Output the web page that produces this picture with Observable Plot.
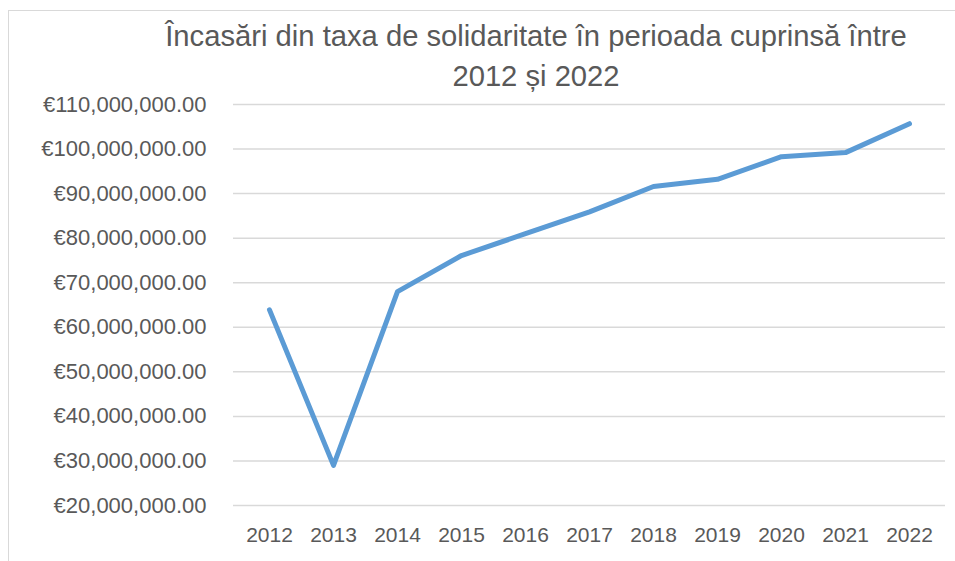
<!DOCTYPE html>
<html>
<head>
<meta charset="utf-8">
<script src="https://cdn.jsdelivr.net/npm/d3@7"></script>
<script src="https://cdn.jsdelivr.net/npm/@observablehq/plot@0.6"></script>
<style>
  html, body { margin: 0; padding: 0; background: #fff; overflow: hidden; }
  #wrap { position: relative; width: 955px; height: 561px; }
  #frame { position: absolute; left: 8px; top: 10px; width: 1000px; height: 600px;
           border-left: 1.3px solid #d9d9d9; border-top: 1.3px solid #d9d9d9; }
  #title { position: relative; height: 80px; box-sizing: border-box;
           font-family: "Liberation Sans", Arial, sans-serif; font-size: 29.2px; line-height: 40px;
           color: #595959; z-index: 1; }
  #title div { position: absolute; left: 536px; transform: translateX(-50%); white-space: nowrap; }
  #chart { position: relative; }
  #chart svg { overflow: visible; }
</style>
</head>
<body>
<div id="wrap">
  <div id="frame"></div>
  <div id="title"></div>
  <div id="chart"></div>
</div>
<script>
const titleLines = ["Încasări din taxa de solidaritate în perioada cuprinsă între", "2012 și 2022"];
const years = ["2012", "2013", "2014", "2015", "2016", "2017", "2018", "2019", "2020", "2021", "2022"];
const values = [63900000, 29000000, 68000000, 76100000, 81000000, 85900000, 91600000, 93200000, 98300000, 99200000, 105700000];
const yTicks = [20000000, 30000000, 40000000, 50000000, 60000000, 70000000, 80000000, 90000000, 100000000, 110000000];

const titleEl = document.getElementById("title");
titleLines.forEach((t, i) => {
  const d = document.createElement("div");
  d.textContent = t;
  d.style.top = (16 + i * 40) + "px";
  titleEl.appendChild(d);
});

const data = years.map((y, i) => ({year: y, value: values[i]}));
const fmt = d3.format(",.2f");

const chart = Plot.plot({
  width: 955,
  height: 481,
  marginTop: 24,
  marginBottom: 56,
  marginLeft: 233,
  marginRight: 10,
  style: {fontFamily: "Liberation Sans, Arial, sans-serif", fontSize: "21px", color: "#595959", background: "transparent"},
  x: {type: "point", domain: years, padding: 0.5},
  y: {domain: [20000000, 110000000]},
  marks: [
    Plot.ruleY(yTicks, {stroke: "#d9d9d9", strokeWidth: 1.5}),
    Plot.axisY({ticks: yTicks, tickSize: 0, tickPadding: 27, tickFormat: d => "€" + fmt(d), label: null, fontSize: 22}),
    Plot.axisX({tickSize: 0, tickPadding: 22, label: null}),
    Plot.line(data, {x: "year", y: "value", stroke: "#5B9BD5", strokeWidth: 5,
                     strokeLinecap: "round", strokeLinejoin: "round"})
  ]
});
document.getElementById("chart").appendChild(chart);
</script>
</body>
</html>
